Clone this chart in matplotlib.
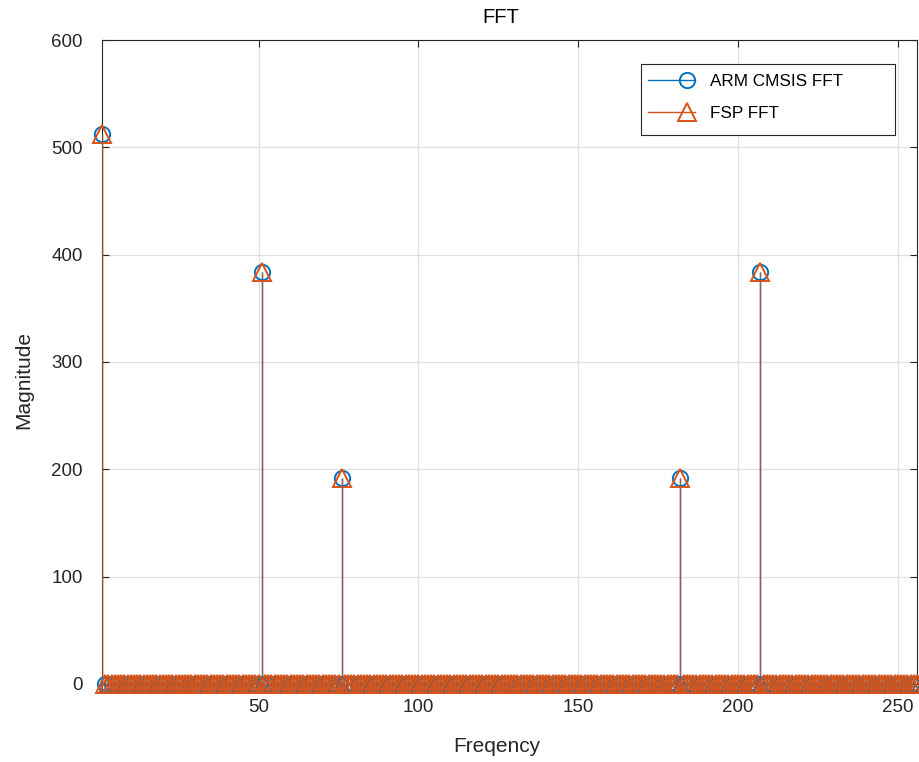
import numpy as np
import matplotlib
matplotlib.use("Agg")
import matplotlib.pyplot as plt
from matplotlib.lines import Line2D
from matplotlib.legend_handler import HandlerBase
from matplotlib.patches import Rectangle

plt.rcParams['font.family'] = ['Liberation Sans', 'DejaVu Sans']

# ---- data ----
n_points = 256
freq = np.arange(1, n_points + 1)
peak_bins = [1, 51, 76, 182, 207]
cmsis_peaks = [512, 384, 192, 192, 384]
fsp_peaks = [512, 384, 192, 192, 384]

cmsis = np.zeros(n_points)
fsp = np.zeros(n_points)
for b, v in zip(peak_bins, cmsis_peaks):
    cmsis[b - 1] = v
for b, v in zip(peak_bins, fsp_peaks):
    fsp[b - 1] = v

x_ticks = [50, 100, 150, 200, 250]
y_ticks = [0, 100, 200, 300, 400, 500, 600]
series_labels = ['ARM CMSIS FFT', 'FSP FFT']

blue = '#0072BD'
orange = '#D95319'
axc = '#262626'

fig = plt.figure(figsize=(9.19, 7.62), dpi=100)
ax = fig.add_axes([0.111, 0.1024, 0.8868, 0.8451])

# grid
ax.set_axisbelow(True)
ax.grid(True, color='#dfdfdf', linewidth=0.9)

# stems
ax.vlines(freq, 0, cmsis, color=blue, linewidth=1.0, zorder=2)
ax.vlines(freq, 0, fsp, color=orange, linewidth=1.0, alpha=0.7, zorder=3)
ax.axhline(0, color=blue, linewidth=1.0, zorder=2)

# markers
ax.plot(freq, cmsis, linestyle='none', marker='o', ms=11, mfc='none',
        mec=blue, mew=1.4, zorder=4, clip_on=False)
ax.plot(freq, fsp, linestyle='none', marker='^', ms=12.5, mfc='none',
        mec=orange, mew=1.4, zorder=5, clip_on=False)

ax.set_xlim(1, n_points)
ax.set_ylim(0, 600)
ax.set_xticks(x_ticks)
ax.set_yticks(y_ticks)

for s in ax.spines.values():
    s.set_color(axc)
    s.set_linewidth(0.8)
ax.tick_params(direction='in', length=5, width=0.8, colors=axc,
               labelsize=13.5, top=True, right=True)
ax.tick_params(axis='y', pad=14)
ax.tick_params(axis='x', pad=11)

ax.set_title('FFT', fontsize=14.5, color='#000000', x=0.4896, pad=12)
ax.set_xlabel('Freqency', fontsize=15, color=axc)
ax.xaxis.set_label_coords(0.4847, -0.082)
ax.set_ylabel('Magnitude', fontsize=15, color=axc)
ax.yaxis.set_label_coords(-0.084, 0.472)


class StemHandler(HandlerBase):
    def create_artists(self, legend, orig_handle, xdescent, ydescent,
                       width, height, fontsize, trans):
        y = height / 2 - ydescent
        line = Line2D([-xdescent, width - xdescent], [y, y],
                      color=orig_handle.get_color(), lw=1.0)
        mk = Line2D([0.82 * width - xdescent], [y], linestyle='none',
                    marker=orig_handle.get_marker(),
                    ms=orig_handle.get_markersize(), mfc='none',
                    mec=orig_handle.get_markeredgecolor(), mew=1.4)
        line.set_transform(trans)
        mk.set_transform(trans)
        return [line, mk]


handles = [
    Line2D([0], [0], color=blue, marker='o', ms=11, mec=blue),
    Line2D([0], [0], color=orange, marker='^', ms=12.5, mec=orange),
]
leg = ax.legend(handles, series_labels, loc='upper left',
                bbox_to_anchor=(0.6613, 0.958), borderaxespad=0,
                fontsize=12.3, frameon=False,
                handlelength=2.75, borderpad=0.42, labelspacing=0.98,
                handletextpad=0.9,
                handler_map={Line2D: StemHandler()})
leg.set_zorder(10)
ax.add_patch(Rectangle((0.6613, 0.8525), 0.973 - 0.6613, 0.9627 - 0.8525,
                       transform=ax.transAxes, facecolor='white',
                       edgecolor=axc, linewidth=0.8, zorder=9))

fig.savefig('out.png', dpi=100)
